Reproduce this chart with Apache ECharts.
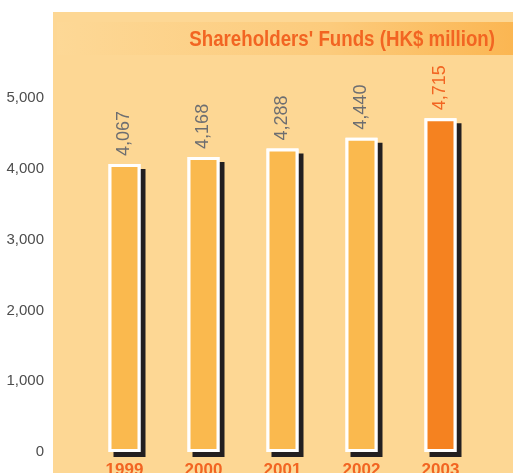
<!DOCTYPE html>
<html>
<head>
<meta charset="utf-8">
<script src="https://cdn.jsdelivr.net/npm/echarts@6/dist/echarts.min.js"></script>
<style>
  html, body { margin: 0; padding: 0; background: #fff; }
  #chart { width: 513px; height: 473px; }
</style>
</head>
<body>
<div id="chart"></div>
<script>
// data
const years = ["1999", "2000", "2001", "2002", "2003"];
const funds = [4067, 4168, 4288, 4440, 4715];
const yTicks = [0, 1000, 2000, 3000, 4000, 5000];

const barColor = "#FAB94E";
const lastColor = "#F58220";
const orange = "#F26522";
const gray = "#6D6E71";
const font = "'Liberation Sans', Arial, sans-serif";

const chart = echarts.init(document.getElementById("chart"));

const fmt = v => v.toLocaleString("en-US");

chart.setOption({
  animation: false,
  backgroundColor: "#fff",
  graphic: [
    {
      type: "rect",
      z: -10,
      shape: { x: 53, y: 12, width: 460, height: 461 },
      style: { fill: "#FDD794" }
    },
    {
      type: "rect",
      z: -9,
      shape: { x: 57, y: 22, width: 456, height: 33 },
      style: {
        fill: new echarts.graphic.LinearGradient(0, 0, 1, 0, [
          { offset: 0, color: "#FDD896" },
          { offset: 0.6, color: "#FCCB7C" },
          { offset: 1, color: "#FBB652" }
        ])
      }
    },
    {
      type: "text",
      x: 495,
      y: 40,
      scaleX: 0.85,
      style: {
        x: 0,
        y: 0,
        text: "Shareholders' Funds (HK$ million)",
        align: "right",
        verticalAlign: "middle",
        fill: orange,
        font: "bold 22px " + font
      }
    }
  ],
  grid: {
    left: 85,
    right: 33,
    top: 98,
    bottom: 21,
    outerBoundsMode: "none"
  },
  xAxis: {
    type: "category",
    data: years,
    axisLine: { show: false },
    axisTick: { show: false },
    axisLabel: {
      color: orange,
      fontFamily: font,
      fontWeight: "bold",
      fontSize: 17,
      margin: 10
    }
  },
  yAxis: {
    type: "value",
    min: yTicks[0],
    max: yTicks[yTicks.length - 1],
    interval: 1000,
    splitLine: { show: false },
    axisLine: { show: false },
    axisTick: { show: false },
    axisLabel: {
      color: "#4D4D4D",
      fontFamily: font,
      fontSize: 15,
      margin: 41,
      formatter: fmt
    }
  },
  series: [
    {
      // shadow layer
      type: "bar",
      barWidth: 32,
      barGap: "-100%",
      silent: true,
      data: funds,
      itemStyle: {
        color: "#fff",
        borderColor: "#fff",
        borderWidth: 3,
        shadowColor: "#231F20",
        shadowBlur: 0,
        shadowOffsetX: 5,
        shadowOffsetY: 5
      }
    },
    {
      type: "bar",
      barWidth: 32,
      barGap: "-100%",
      data: funds.map((v, i) => ({
        value: v,
        itemStyle: { color: i === funds.length - 1 ? lastColor : barColor },
        label: { color: i === funds.length - 1 ? orange : gray }
      })),
      itemStyle: {
        borderColor: "#fff",
        borderWidth: 3
      },
      label: {
        show: true,
        position: "top",
        rotate: 90,
        align: "left",
        verticalAlign: "middle",
        distance: 8,
        fontFamily: font,
        fontSize: 18,
        formatter: p => fmt(p.value)
      }
    }
  ]
});
</script>
</body>
</html>
